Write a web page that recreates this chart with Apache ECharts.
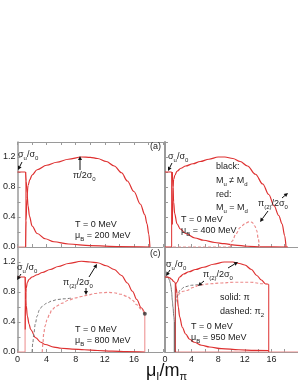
<!DOCTYPE html>
<html><head><meta charset="utf-8">
<script src="https://cdn.jsdelivr.net/npm/echarts@6/dist/echarts.min.js"></script>
<style>html,body{margin:0;padding:0;background:#fff}#c{width:298px;height:385px}</style>
</head><body><div id="c"></div>
<script>
// ---- tick labels ----
const xTickLabels = ['0','4','8','12','16'];
const yTickLabels = ['0.0','0.4','0.8','1.2'];

// ---- Panel A : muB = 200 MeV (red) ----
const A_sigFlat = [[0,1.0],[1.1,1.0]];
const A_sigDrop = [[1.1,1.0],[1.1,0]];
const A_zero = [[0,0],[1.1,0]];
const A_sigTail = [[1.12,1.0],[1.2,0.88],[1.3,0.72],[1.45,0.55],[1.65,0.41],[2.0,0.28],[2.7,0.18],[3.8,0.11],[5,0.07],[7,0.04],[10,0.018],[14,0.006],[18.2,0]];
const A_pi = [[1.12,0],[1.18,0.35],[1.28,0.65],[1.45,0.82],[1.7,0.9],[2.0,0.96],[2.7,1.03],[4.0,1.09],[5.4,1.13],[7.0,1.17],[8.8,1.2],[10,1.195],[11,1.18],[12.2,1.14],[13.3,1.08],[14.3,0.99],[15.1,0.88],[16.0,0.74],[16.9,0.57],[17.5,0.43],[17.8,0.31],[18.05,0.17],[18.2,0]];

// ---- Panel B : muB = 400 MeV ----
const B_sigFlat = [[0,1.0],[1.0,1.0]];
const B_sigDrop = [[1.0,1.0],[1.0,0]];
const B_zero = [[0,0],[1.0,0]];
const B_sigTail = [[1.1,1.0],[1.2,0.8],[1.3,0.6],[1.45,0.45],[1.8,0.31],[2.3,0.24],[3.1,0.18],[4.5,0.12],[5.8,0.09],[7.5,0.06],[8.9,0.044],[10.5,0.025],[12.4,0.01],[14.5,0.002],[18.5,0]];
const B_pi = [[1.1,0.3],[1.2,0.8],[1.3,0.9],[1.5,0.96],[1.8,1.01],[2.4,1.05],[3.1,1.08],[4.2,1.11],[5.3,1.14],[6.6,1.17],[8.0,1.2],[9.0,1.2],[10.2,1.18],[11.3,1.14],[12.4,1.08],[13.6,0.97],[14.7,0.84],[15.6,0.7],[16.4,0.55],[17.1,0.42],[17.6,0.31],[18.0,0.15],[18.2,0]];
const B_pi2Zero = [[1.2,0],[9.8,0]];
const B_pi2 = [[9.8,0],[10.1,0.08],[10.7,0.18],[11.3,0.26],[12.0,0.31],[12.6,0.335],[13.1,0.33],[13.5,0.28],[13.8,0.22],[14.0,0.12],[14.2,0]];

// ---- Panel C : muB = 800 MeV ----
const C_sigFlat = [[0,1.0],[1.04,1.0]];
const C_sigDrop = [[1.04,1.0],[1.04,0]];
const C_zero = [[0,0],[1.04,0]];
const C_sigTail = [[1.06,1.0],[1.1,0.8],[1.2,0.62],[1.35,0.48],[1.6,0.37],[1.8,0.3],[2.5,0.19],[3.2,0.13],[3.8,0.1],[5,0.065],[6,0.05],[7.5,0.038],[9.2,0.03],[11,0.02],[13,0.012],[15,0.006],[17.5,0]];
const C_pi = [[1.06,0.3],[1.1,0.7],[1.2,0.85],[1.35,0.93],[1.6,0.97],[2.0,1.0],[2.7,1.03],[3.4,1.06],[4.5,1.1],[5.6,1.14],[7.0,1.18],[8.8,1.21],[10,1.2],[11,1.19],[12.2,1.15],[13.3,1.1],[14.3,1.02],[15.1,0.92],[15.8,0.81],[16.4,0.7],[17.0,0.59],[17.5,0.51]];
const C_piDrop = [[17.5,0.51],[17.5,0]];
const C_pi2Black = [[2.0,0],[2.1,0.12],[2.25,0.25],[2.45,0.38],[2.7,0.48],[3.0,0.56],[3.4,0.61],[4.0,0.65],[4.7,0.68],[5.5,0.7],[6.5,0.71],[7.5,0.72]];
const C_pi2Red = [[3.4,0],[3.5,0.12],[3.6,0.25],[3.8,0.35],[4.05,0.43],[4.4,0.5],[4.7,0.56],[5.3,0.61],[6.1,0.65],[7.0,0.69],[7.9,0.72],[8.8,0.74],[9.7,0.76],[10.6,0.78],[11.5,0.79],[12.4,0.795],[13.3,0.79],[14.2,0.77],[15.1,0.74],[15.8,0.69],[16.4,0.63],[17.0,0.57],[17.5,0.51]];
const C_endPoint = [[17.5,0.51]];

// ---- Panel D : muB = 950 MeV ----
const D_sigBlack = [[0,1.0],[0.35,1.0],[0.5,0.99],[0.67,0.96],[0.8,0.92],[0.9,0.87],[1.0,0.8],[1.1,0.69],[1.2,0.6],[1.33,0.47],[1.4,0.4]];
const D_sigBlackDrop = [[1.4,0.4],[1.4,0]];
const D_sigRed = [[0,1.0],[0.35,1.0],[0.7,0.99],[1.0,0.97],[1.3,0.94],[1.55,0.92]];
const D_sigRedDrop = [[1.55,0.92],[1.55,0]];
const D_zero = [[1.55,0],[20,0]];
const D_sigTail = [[1.6,0.9],[1.7,0.85],[1.8,0.78],[2.0,0.6],[2.2,0.47],[2.6,0.33],[3.1,0.24],[3.7,0.17],[4.4,0.13],[5.5,0.09],[6.7,0.067],[8.5,0.045],[11.1,0.03],[13.5,0.022],[15.6,0.02]];
const D_pi = [[1.6,0.9],[1.8,0.93],[2.2,1.0],[2.8,1.04],[3.6,1.07],[4.6,1.1],[5.8,1.13],[7.3,1.17],[8.9,1.2],[10.2,1.2],[11.2,1.18],[12.0,1.16],[13.0,1.1],[13.8,1.02],[14.5,0.96],[15.1,0.91],[15.6,0.9]];
const D_piDrop = [[15.6,0.9],[15.6,0]];
const D_pi2Black = [[1.6,0.66],[1.9,0.76],[2.3,0.83],[3.0,0.87],[4.0,0.89],[5.0,0.9]];
const D_pi2Red = [[1.8,0.69],[2.2,0.78],[2.7,0.81],[3.3,0.82],[4.2,0.86],[5.1,0.89],[6.7,0.91],[8.5,0.92],[10.2,0.93],[12.9,0.93],[14.7,0.91],[15.6,0.9]];

const RED = '#de3030', PINK = '#ec8a8a', GRAY = '#777', AX = '#9a9a9a';
const FONT = 'Liberation Sans';

const grids = [
  {left:15, top:142, width:148, height:105},
  {left:165, top:142, width:148, height:105},
  {left:15, top:247, width:148, height:105},
  {left:165, top:247, width:148, height:105}
];

function pick(labels, v, step) {
  const k = Math.round(v / step);
  if (Math.abs(v - k * step) > 1e-6) return '';
  return labels[k] !== undefined ? labels[k] : '';
}

function xAx(i, pos) {
  return {
    type:'value', gridIndex:i, min:0, max:20, interval:4, position: pos||'bottom',
    axisLine:{show:true, onZero:false, lineStyle:{color:AX, width:1}},
    axisTick:{show:true, inside:true, length:3, lineStyle:{color:AX}},
    minorTick:{show:true, splitNumber:2, length:3, lineStyle:{color:AX}},
    splitLine:{show:false},
    axisLabel:{show: !pos && i>=2, margin:3, fontSize:9, fontFamily:FONT, color:'#222', showMaxLabel:false,
      formatter: v => pick(xTickLabels, v, 4)}
  };
}
function yAx(i) {
  return {
    type:'value', gridIndex:i, min:0, max:1.4, interval:0.4,
    axisLine:{show:true, onZero:false, lineStyle:{color:AX, width:(i%2===1)?2:1.5}},
    axisTick:{show:true, inside:true, length:3, lineStyle:{color:AX}},
    minorTick:{show:true, splitNumber:2, length:3, lineStyle:{color:AX}},
    splitLine:{show:false},
    axisLabel:{show: i%2===0, margin:2, fontSize:9, fontFamily:FONT, color:'#222', showMaxLabel:false,
      formatter: v => pick(yTickLabels, v, 0.4)}
  };
}

function L(g, data, color, opts) {
  opts = opts || {};
  return {
    type:'line', xAxisIndex:g, yAxisIndex:g, data:data, showSymbol:false, symbol:'none',
    smooth: opts.smooth === false ? false : 0.35, smoothMonotone:'x', animation:false, silent:true,
    lineStyle:{color:color, width: opts.w || 1.2, type: opts.dash ? [3,2] : 'solid'},
    z: opts.z || 2
  };
}

const series = [
  // A
  L(0, A_zero, PINK, {smooth:false, w:1}),
  L(0, A_sigDrop, PINK, {smooth:false, w:1}),
  L(0, A_sigFlat, RED, {smooth:false}),
  L(0, A_sigTail, RED),
  L(0, A_pi, RED),
  // B
  L(1, B_zero, RED, {smooth:false}),
  L(1, B_sigDrop, RED, {smooth:false, w:1}),
  L(1, B_sigFlat, RED, {smooth:false}),
  L(1, B_sigTail, RED),
  L(1, B_pi, RED),
  L(1, B_pi2Zero, PINK, {smooth:false, dash:true, w:1}),
  L(1, B_pi2, PINK, {dash:true, w:1.2}),
  // C
  L(2, C_zero, PINK, {smooth:false, w:1}),
  L(2, C_sigDrop, PINK, {smooth:false, w:1}),
  L(2, C_sigFlat, RED, {smooth:false}),
  L(2, C_sigTail, RED),
  L(2, C_pi, RED),
  L(2, C_piDrop, PINK, {smooth:false, w:1}),
  L(2, C_pi2Black, GRAY, {dash:true, w:1}),
  L(2, C_pi2Red, PINK, {dash:true, w:1.2}),
  {type:'scatter', xAxisIndex:2, yAxisIndex:2, data:C_endPoint, symbolSize:4, itemStyle:{color:'#333'}, silent:true, animation:false, z:5},
  // D
  L(3, D_zero, PINK, {smooth:false, w:1.2}),
  L(3, D_sigBlack, GRAY, {w:1}),
  L(3, D_sigBlackDrop, '#555', {smooth:false, w:1}),
  L(3, D_sigRed, RED, {}),
  L(3, D_sigRedDrop, '#b02020', {smooth:false, w:1}),
  L(3, D_sigTail, RED),
  L(3, D_pi, RED),
  L(3, D_piDrop, RED, {smooth:false, w:1}),
  L(3, D_pi2Black, GRAY, {dash:true, w:1}),
  L(3, D_pi2Red, PINK, {dash:true, w:1.2})
];

function rich(size) {
  return {
    s:{fontSize:Math.round(size*0.68), fontFamily:FONT, fill:'#222', verticalAlign:'bottom', lineHeight:Math.round(size*0.5)}
  };
}
function T(x, y, text, size) {
  size = size || 9;
  return {type:'text', x:x, y:y, silent:true, z:10, style:{text:text, fontSize:size, fontFamily:FONT, fill:'#222', verticalAlign:'middle', lineHeight:Math.round(size*1.3), rich:rich(size)}};
}
function arrow(x1, y1, x2, y2) {
  const a = Math.atan2(y2-y1, x2-x1), h = 4, w = 2;
  const bx = x2 - h*Math.cos(a), by = y2 - h*Math.sin(a);
  return [
    {type:'line', silent:true, z:10, shape:{x1:x1, y1:y1, x2:bx, y2:by}, style:{stroke:'#111', lineWidth:1}},
    {type:'polygon', silent:true, z:10, shape:{points:[[x2,y2],[bx + w*Math.sin(a), by - w*Math.cos(a)],[bx - w*Math.sin(a), by + w*Math.cos(a)]]}, style:{fill:'#111'}}
  ];
}

const graphic = [
  // Panel A
  T(18, 155, 'σ{s|u}/σ{s|0}'),
  ...arrow(22, 162, 18, 170),
  T(73, 176, 'π/2σ{s|0}'),
  ...arrow(80, 170, 80, 156),
  T(75, 225, 'T = 0 MeV'),
  T(75, 236, 'μ{s|B} = 200 MeV'),
  // Panel B
  T(150, 147, '(a)'),
  T(168, 157, 'σ{s|u}/σ{s|0}'),
  ...arrow(172, 163, 168, 171),
  T(216, 167, 'black:'),
  T(216, 181, 'M{s|u} ≠ M{s|d}'),
  T(216, 195, 'red:'),
  T(216, 208, 'M{s|u} = M{s|d}'),
  T(258, 204, 'π{s|(2)}/2σ{s|0}'),
  ...arrow(282, 198, 288, 193),
  ...arrow(268, 211, 260, 222),
  T(181, 220, 'T = 0 MeV'),
  T(181, 231, 'μ{s|B} = 400 MeV'),
  // Panel C
  T(17, 268, 'σ{s|u}/σ{s|0}'),
  ...arrow(21, 274, 17, 280),
  T(63, 283, 'π{s|(2)}/2σ{s|0}'),
  ...arrow(89, 277, 97, 264),
  ...arrow(86, 288, 86, 295),
  T(75, 330, 'T = 0 MeV'),
  T(75, 341, 'μ{s|B} = 800 MeV'),
  // Panel D
  T(150, 254, '(c)'),
  T(166, 265, 'σ{s|u}/σ{s|0}'),
  ...arrow(170, 270, 166, 276),
  T(203, 275, 'π{s|(2)}/2σ{s|0}'),
  ...arrow(228, 268, 238, 262),
  ...arrow(204, 281, 198, 286),
  T(220, 298, 'solid: π'),
  T(220, 312, 'dashed: π{s|2}'),
  T(191, 327, 'T = 0 MeV'),
  T(191, 338, 'μ{s|B} = 950 MeV'),
  // axis title
  {type:'text', x:146, y:371, silent:true, z:10, style:{text:'μ{s|I}/m{s|π}', fontSize:18, fontFamily:FONT, fill:'#111', verticalAlign:'middle', lineHeight:22,
    rich:{s:{fontSize:11, fontFamily:FONT, fill:'#111', verticalAlign:'bottom', lineHeight:7}}}}
];

const chart = echarts.init(document.getElementById('c'), null, {renderer:'canvas'});
chart.setOption({
  animation:false,
  backgroundColor:'#fff',
  grid: grids,
  xAxis: [xAx(0), xAx(1), xAx(2), xAx(3), xAx(0,'top')],
  yAxis: [yAx(0), yAx(1), yAx(2), yAx(3)],
  series: series,
  graphic: graphic
});
</script></body></html>
